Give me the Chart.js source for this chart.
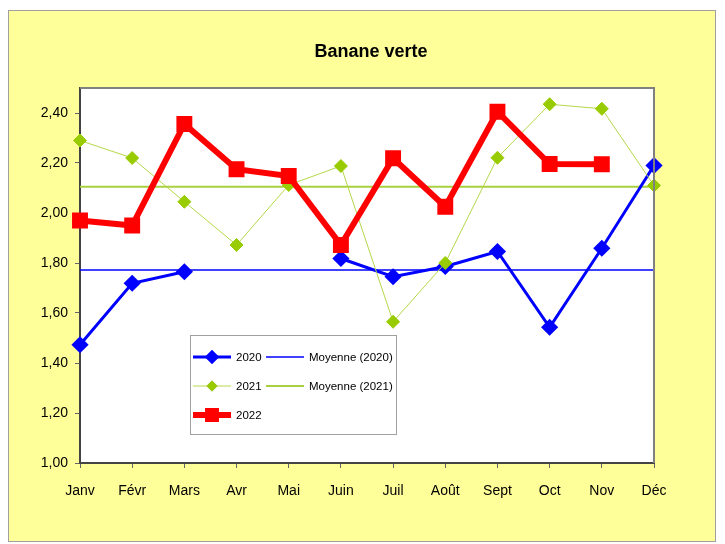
<!DOCTYPE html>
<html>
<head>
<meta charset="utf-8">
<script src="https://cdn.jsdelivr.net/npm/chart.js@4"></script>
<style>
html,body{margin:0;padding:0;background:#fff;width:725px;height:544px;overflow:hidden}
#box{position:absolute;left:8px;top:10px;width:706px;height:530px;background:#ffff99;border:1px solid #a0a0a0}
#wrap{position:absolute;left:0;top:0;width:725px;height:544px}
</style>
</head>
<body>
<div id="box"></div>
<div id="wrap"><canvas id="chart" width="725" height="544"></canvas></div>
<script>

/* DATA */

const months=["Janv","Févr","Mars","Avr","Mai","Juin","Juil","Août","Sept","Oct","Nov","Déc"]

const prix2020=[1.473,1.719,1.765,null,null,1.818,1.745,1.786,1.846,1.543,1.859,2.19]
const prix2021=[2.29,2.22,2.045,1.872,2.112,2.188,1.565,1.80,2.221,2.435,2.417,2.11]
const prix2022=[1.97,1.95,2.356,2.175,2.148,1.872,2.219,2.025,2.405,2.196,2.195,null]

const moyenne2020=1.772
const moyenne2021=2.105

const yTicks=[1.0,1.2,1.4,1.6,1.8,2.0,2.2,2.4]

const FONT="'Liberation Sans',Arial,sans-serif"


/* PLOT BACKGROUND + FRAME */

const frame={
id:"frame",
beforeDraw(chart){
const a=chart.chartArea, c=chart.ctx
c.save()
c.fillStyle="#fff"
c.fillRect(a.left,a.top,a.right-a.left,a.bottom-a.top)
c.restore()
},
afterDraw(chart){
const a=chart.chartArea, c=chart.ctx
c.save()
c.strokeStyle="#808080"
c.lineWidth=2
c.beginPath()
c.moveTo(a.left,a.top)
c.lineTo(a.right,a.top)
c.lineTo(a.right,a.bottom)
c.stroke()

/* title */
c.fillStyle="#000"
c.font="bold 18px "+FONT
c.textAlign="center"
c.textBaseline="middle"
c.fillText("Banane verte",371,52)
c.restore()
}
}


/* LEGEND BOX (two columns like the original) */

const legendBox={
id:"legendBox",
afterDraw(chart){
const c=chart.ctx
const ds=chart.data.datasets
c.save()
c.fillStyle="#fff"
c.fillRect(190,335,207,100)
c.strokeStyle="#a0a0a0"
c.lineWidth=1
c.strokeRect(190.5,335.5,206,99)

const slots=[
{i:0,x:193,y:357},
{i:1,x:193,y:386},
{i:2,x:193,y:415},
{i:3,x:266,y:357},
{i:4,x:266,y:386}
]

c.font="11.5px "+FONT
c.textBaseline="middle"
c.textAlign="left"

slots.forEach(s=>{
const d=ds[s.i]
c.strokeStyle=d.borderColor
c.lineWidth=d.borderWidth
c.beginPath()
c.moveTo(s.x,s.y)
c.lineTo(s.x+38,s.y)
c.stroke()
if(d.pointRadius>0){
Chart.helpers.drawPoint(c,{pointStyle:d.pointStyle,radius:d.pointRadius*0.8,borderWidth:1,rotation:0},s.x+19,s.y)
c.fillStyle=d.pointBackgroundColor
c.strokeStyle=d.pointBorderColor
c.fill()
}
c.fillStyle="#000"
c.fillText(d.label,s.x+43,s.y+1)
})
c.restore()
}
}


/* CHART */

const ctx=document.getElementById("chart").getContext("2d")

new Chart(ctx,{

type:"line",

data:{
labels:months,

datasets:[
{
label:"2020",
data:prix2020,
borderColor:"#0000ff",
backgroundColor:"#0000ff",
pointBackgroundColor:"#0000ff",
pointBorderColor:"#0000ff",
borderWidth:3,
pointStyle:"rectRot",
pointRadius:6.5,
spanGaps:false,
order:3
},
{
label:"2021",
data:prix2021,
borderColor:"#b4d84a",
backgroundColor:"#99cc00",
pointBackgroundColor:"#99cc00",
pointBorderColor:"#99cc00",
borderWidth:1,
pointStyle:"rectRot",
pointRadius:6.5,
order:2
},
{
label:"2022",
data:prix2022,
borderColor:"#ff0000",
backgroundColor:"#ff0000",
pointBackgroundColor:"#ff0000",
pointBorderColor:"#ff0000",
borderWidth:6,
pointStyle:"rect",
pointRadius:7,
order:1
},
{
label:"Moyenne (2020)",
data:months.map(()=>moyenne2020),
borderColor:"#0000ff",
borderWidth:1.5,
pointRadius:0,
order:5
},
{
label:"Moyenne (2021)",
data:months.map(()=>moyenne2021),
borderColor:"#a8d040",
borderWidth:2,
pointRadius:0,
order:4
}
]
},

options:{
responsive:false,
animation:false,
layout:{padding:{top:88,right:71,left:0,bottom:0}},
plugins:{
legend:{display:false},
title:{display:false},
tooltip:{enabled:false}
},
elements:{line:{tension:0},point:{borderWidth:1}},
scales:{
x:{
offset:false,
afterFit(s){s.height=81},
grid:{drawOnChartArea:false,drawTicks:true,tickLength:5,color:"#666"},
border:{display:true,color:"#444",width:2},
ticks:{color:"#000",font:{family:FONT,size:14},padding:15,maxRotation:0,autoSkip:false}
},
y:{
min:1,
max:2.5,
afterFit(s){s.width=80},
afterBuildTicks(s){s.ticks=yTicks.map(v=>({value:v}))},
grid:{drawOnChartArea:false,drawTicks:true,tickLength:5,color:"#666"},
border:{display:true,color:"#444",width:2},
ticks:{
color:"#000",
font:{family:FONT,size:14},
padding:7,
callback:v=>v.toFixed(2).replace(".",",")
}
}
}
},

plugins:[frame,legendBox]

})

</script>
</body>
</html>
